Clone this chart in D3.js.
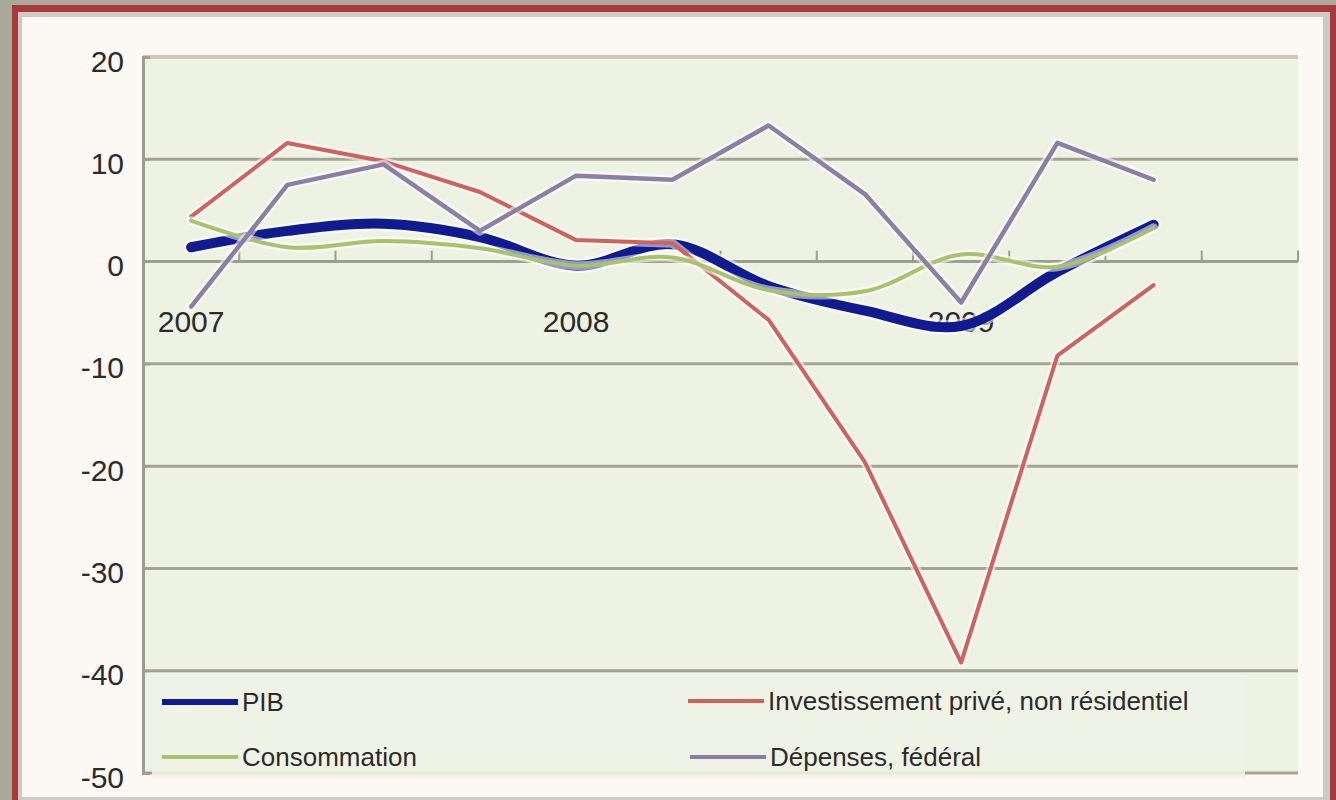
<!DOCTYPE html>
<html>
<head>
<meta charset="utf-8">
<script src="https://cdn.jsdelivr.net/npm/d3@7"></script>
<style>
  html, body { margin: 0; padding: 0; background: #a9a899; }
  svg { display: block; }
  text { font-family: "Liberation Sans", Arial, sans-serif; fill: #2b2b2b; }
</style>
</head>
<body>
<svg id="chart" width="1336" height="800"></svg>
<script>
// Quarterly growth, annualised rates (%)
const quarters = ["2007T1","2007T2","2007T3","2007T4","2008T1","2008T2","2008T3","2008T4","2009T1","2009T2","2009T3","2009T4"];
const yearLabels = ["2007","","","","2008","","","","2009","","",""];
const yTicks = [20, 10, 0, -10, -20, -30, -40, -50];

const pib          = [1.4, 3.0, 3.7, 2.4, -0.4, 1.7, -2.4, -4.8, -6.3, -1.0, 3.6];
const investPrive  = [4.4, 11.6, 9.8, 6.8, 2.1, 1.8, -5.7, -19.6, -39.2, -9.2, -2.3];
const consommation = [4.0, 1.4, 2.0, 1.3, -0.4, 0.4, -2.8, -2.9, 0.7, -0.5, 3.3];
const depenses     = [-4.4, 7.5, 9.5, 3.0, 8.4, 8.0, 13.3, 6.6, -4.0, 11.6, 8.0];

const seriesNames  = ["PIB", "Investissement privé, non résidentiel", "Consommation", "Dépenses, fédéral"];

const series = [
  { name: seriesNames[0], values: pib,          color: "#0f1b8e", width: 10, smooth: true,  legend: [162, 702] },
  { name: seriesNames[1], values: investPrive,  color: "#d0625b", width: 4,  smooth: false, legend: [688, 701] },
  { name: seriesNames[2], values: consommation, color: "#a9c26c", width: 4,  smooth: true,  legend: [162, 757] },
  { name: seriesNames[3], values: depenses,     color: "#8c7fa6", width: 4.5, smooth: false, legend: [690, 757] }
];

const svg = d3.select("#chart");

// Frame: red border, grey inner edge, cream panel
svg.append("rect").attr("x", 12).attr("y", 5).attr("width", 1340).attr("height", 810).attr("fill", "#a8393b");
svg.append("rect").attr("x", 18).attr("y", 12).attr("width", 1312).attr("height", 800).attr("fill", "#cdcac6");
svg.append("rect").attr("x", 22).attr("y", 17).attr("width", 1301).attr("height", 780).attr("fill", "#fcf8f4");

const plot = { left: 143, right: 1298, top: 57, bottom: 773 };

const x = d3.scaleBand().domain(quarters).range([plot.left, plot.right]);
const y = d3.scaleLinear().domain([-50, 20]).range([plot.bottom, plot.top]);

// Plot area
svg.append("rect")
  .attr("x", plot.left).attr("y", plot.top)
  .attr("width", plot.right - plot.left).attr("height", plot.bottom - plot.top)
  .attr("fill", "#eef2e3");

// Horizontal gridlines
svg.append("g").selectAll("line")
  .data(yTicks.filter(v => v < 20))
  .join("line")
  .attr("x1", plot.left).attr("x2", plot.right)
  .attr("y1", d => y(d)).attr("y2", d => y(d))
  .attr("stroke", "#a3a592").attr("stroke-width", 3);

// Top edge of the plot area
svg.append("line")
  .attr("x1", plot.left).attr("x2", plot.right)
  .attr("y1", y(20)).attr("y2", y(20))
  .attr("stroke", "#c9c8c1").attr("stroke-width", 4);

// Value axis on the left, ticks pointing inward
const yAxis = d3.axisRight(y).tickValues(yTicks).tickSize(7).tickFormat("");
const gy = svg.append("g").attr("transform", `translate(${plot.left},0)`).call(yAxis);
gy.select(".domain").attr("stroke", "#9d9d93").attr("stroke-width", 3);
gy.selectAll(".tick line").attr("stroke", "#9d9d93").attr("stroke-width", 2);

// Value labels
svg.append("g").selectAll("text")
  .data(yTicks)
  .join("text")
  .attr("x", 124)
  .attr("y", d => y(d) + 4)
  .attr("text-anchor", "end")
  .attr("dominant-baseline", "central")
  .attr("font-size", 30)
  .text(d => d);

// Category axis on the zero line, ticks pointing up at band edges
const edges = quarters.map(q => x(q)).concat([plot.right]).slice(1);
svg.append("line")
  .attr("x1", plot.left).attr("x2", plot.right)
  .attr("y1", y(0)).attr("y2", y(0))
  .attr("stroke", "#9d9f8e").attr("stroke-width", 3);
svg.append("g").selectAll("line")
  .data(edges)
  .join("line")
  .attr("x1", d => d).attr("x2", d => d)
  .attr("y1", y(0)).attr("y2", y(0) - 11)
  .attr("stroke", "#9d9f8e").attr("stroke-width", 2);

// Year labels
svg.append("g").selectAll("text")
  .data(quarters.map((q, i) => ({ q, label: yearLabels[i] })).filter(d => d.label))
  .join("text")
  .attr("x", d => x(d.q) + x.bandwidth() / 2)
  .attr("y", y(0) + 70)
  .attr("text-anchor", "middle")
  .attr("font-size", 30)
  .text(d => d.label);

// Series lines
const cx = (d, i) => x(quarters[i]) + x.bandwidth() / 2;
series.forEach(s => {
  const line = d3.line()
    .x(cx)
    .y(d => y(d))
    .curve(s.smooth ? d3.curveCatmullRom.alpha(0.5) : d3.curveLinear);
  svg.append("path")
    .datum(s.values)
    .attr("d", line)
    .attr("fill", "none")
    .attr("stroke", "#ffffff")
    .attr("stroke-opacity", 0.55)
    .attr("stroke-width", s.width + 5)
    .attr("stroke-linejoin", "round")
    .attr("stroke-linecap", "round");
  svg.append("path")
    .datum(s.values)
    .attr("d", line)
    .attr("fill", "none")
    .attr("stroke", s.color)
    .attr("stroke-width", s.width)
    .attr("stroke-linejoin", "round")
    .attr("stroke-linecap", "round");
});

// Legend block inside the plot area
svg.append("rect")
  .attr("x", 152).attr("y", 675)
  .attr("width", 1093).attr("height", 103)
  .attr("fill", "#eff2e5").attr("fill-opacity", 0.88);

const lg = svg.append("g").selectAll("g")
  .data(series)
  .join("g")
  .attr("transform", d => `translate(${d.legend[0]},${d.legend[1]})`);
lg.append("line")
  .attr("x1", 0).attr("x2", 76)
  .attr("stroke", d => d.color)
  .attr("stroke-width", d => d.smooth && d.width > 5 ? 6 : 4);
lg.append("text")
  .attr("x", 80)
  .attr("dominant-baseline", "central")
  .attr("font-size", 26)
  .text(d => d.name);
</script>
</body>
</html>
